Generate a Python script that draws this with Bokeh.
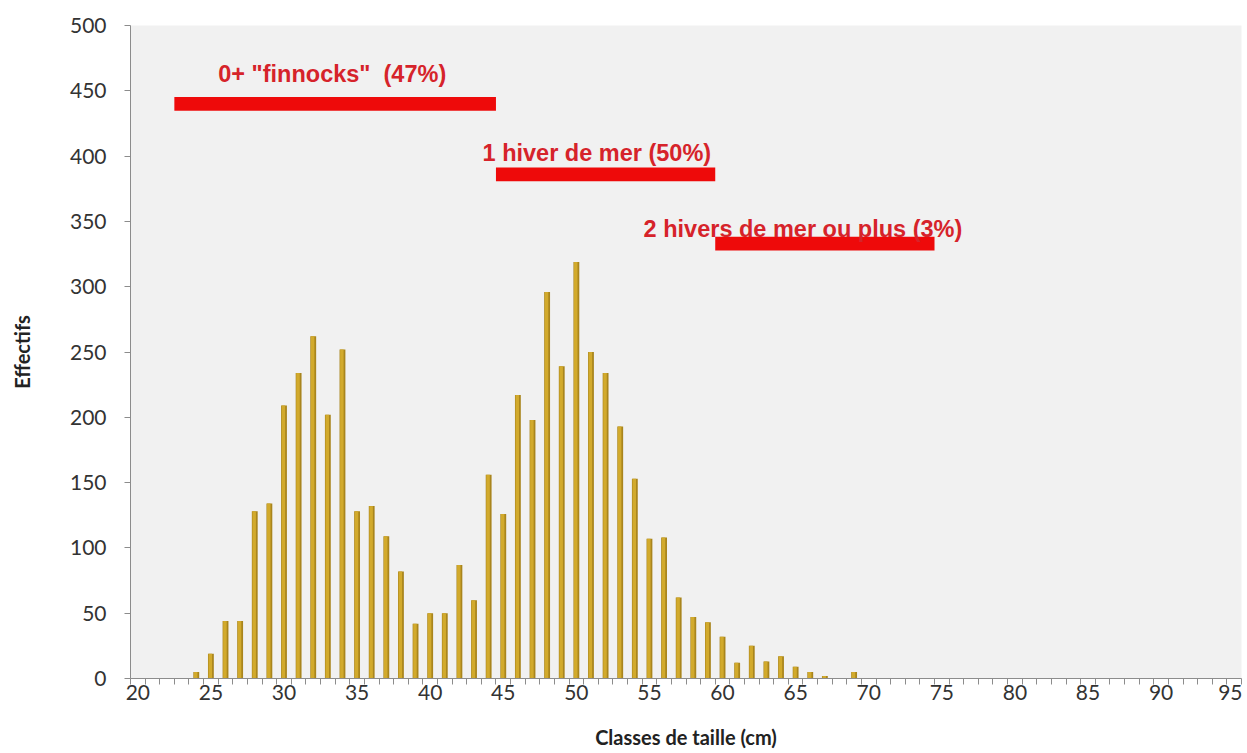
from bokeh.plotting import figure
from bokeh.models import ColumnDataSource, FixedTicker, Range1d
from bokeh.core.properties import value
from bokeh.transform import dodge
from bokeh.embed import file_html
from bokeh.resources import INLINE

# ---- data ----
classes = list(range(24, 70))
effectifs = [5, 19, 44, 44,
             128, 134, 209, 234, 262, 202, 252, 128, 132, 109,
             82, 42, 50, 50, 87, 60,
             156, 126, 217, 198, 296, 239, 319, 250, 234, 193,
             153, 107, 108, 62, 47, 43,
             32, 12, 25, 13, 17, 9, 5, 2, 0, 5]

groups = ['0+ "finnocks"\u00a0\u00a0(47%)', '1 hiver de mer (50%)', '2 hivers de mer ou plus (3%)']
group_start = [22.5, 44.5, 59.5]
group_end = [44.5, 59.5, 74.5]
group_level = [440, 386, 333]

x_tick_labels = list(range(20, 96, 5))
y_tick_labels = list(range(0, 501, 50))

# annotation positions (data coordinates)
label_x = [33.3, 51.4, 65.5]
label_y = [463, 402.5, 344.5]

bars = ColumnDataSource(dict(x=classes, top=effectifs))
grp = ColumnDataSource(dict(left=group_start, right=group_end, y=group_level,
                            lx=label_x, ly=label_y, text=groups))

p = figure(width=1242, height=751, output_backend="svg", toolbar_location=None,
           x_range=Range1d(19.5, 95.5), y_range=Range1d(0, 500),
           min_border_left=130, min_border_right=1, min_border_top=25, min_border_bottom=71)

p.background_fill_color = "#F1F1F1"
p.border_fill_color = "white"
p.outline_line_color = None
p.grid.grid_line_color = None

# histogram bars (two layers for a shaded look)
p.vbar(x="x", top="top", width=0.40, source=bars, fill_color="#A9851D", line_color=None)
p.vbar(x=dodge("x", -0.04), top="top", width=0.24, source=bars, fill_color="#D2AA2C", line_color=None)

# age-group ranges
p.hbar(y="y", left="left", right="right", height=10.5, source=grp,
       fill_color="#EE0A0A", line_color=None)
p.text(x="lx", y="ly", text="text", source=grp,
       text_font=value("Liberation Sans"), text_font_style="bold",
       text_font_size="23.5px", text_color="#D6232A",
       text_align="center", text_baseline="alphabetic")

# axes
xa = p.xaxis[0]
xa.ticker = FixedTicker(ticks=x_tick_labels, minor_ticks=[i + 0.5 for i in range(19, 96)])
xa.major_tick_line_color = None
xa.major_tick_out = 0
xa.major_tick_in = 0
xa.minor_tick_out = 6
xa.minor_tick_in = 0
xa.minor_tick_line_color = "#8C8C8C"
xa.axis_line_color = "#8C8C8C"
xa.major_label_standoff = 0
xa.axis_label = "Classes de taille (cm)"
xa.axis_label_standoff = 22

ya = p.yaxis[0]
ya.ticker = FixedTicker(ticks=y_tick_labels, minor_ticks=[])
ya.major_tick_out = 6
ya.major_tick_in = 0
ya.major_tick_line_color = "#8C8C8C"
ya.axis_line_color = "#8C8C8C"
ya.major_label_standoff = 18
ya.axis_label = "Effectifs"
ya.axis_label_standoff = 33

for ax in (xa, ya):
    ax.major_label_text_font = "Lato"
    ax.major_label_text_font_size = "21px"
    ax.major_label_text_color = "#333333"
    ax.axis_label_text_font = "Lato"
    ax.axis_label_text_font_size = "20px"
    ax.axis_label_text_font_style = "bold"
    ax.axis_label_text_color = "#222222"

open("out.html", "w").write(file_html(p, INLINE))
